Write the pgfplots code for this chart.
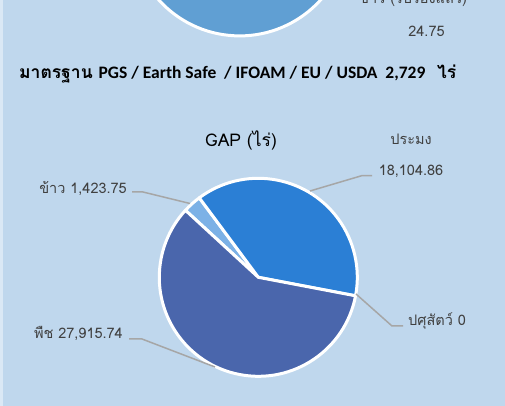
\documentclass[border=0pt]{standalone}
\usepackage{pgfplots}
\pgfplotsset{compat=1.18}
\usepackage{pgfplotstable}
\usepackage{fontspec}
\setmainfont{Loma}[Script=Thai]
\newfontfamily\thaifont[Script=Thai]{Loma}
\newfontfamily\latinfont{Carlito}
\definecolor{bg}{HTML}{BFD7ED}
\definecolor{strip}{HTML}{DAE8F5}
\definecolor{toppie}{HTML}{609FD3}
\definecolor{cfish}{HTML}{2B7FD5}
\definecolor{cplant}{HTML}{4A66AC}
\definecolor{crice}{HTML}{7CB1E6}
\definecolor{leader}{HTML}{A6A6A6}
\definecolor{txt}{HTML}{404040}

% GAP (rai): rice, fishery, livestock, plants
\pgfplotstableread{
idx value
0 1423.75
1 18104.86
2 0
3 27915.74
}\gapdata

\begin{document}
\begin{tikzpicture}
\pgfplotstablegetelem{0}{value}\of\gapdata \let\va\pgfplotsretval
\pgfplotstablegetelem{1}{value}\of\gapdata \let\vb\pgfplotsretval
\pgfplotstablegetelem{2}{value}\of\gapdata \let\vc\pgfplotsretval
\pgfplotstablegetelem{3}{value}\of\gapdata \let\vd\pgfplotsretval
\edef\tot{\fpeval{\va+\vb+\vc+\vd}}
\edef\aA{137.4}
\edef\aB{\fpeval{\aA-360*\va/\tot}}
\edef\aC{\fpeval{\aB-360*\vb/\tot}}
\edef\aD{\fpeval{\aC-360*\vc/\tot}}
\edef\aE{\fpeval{\aD-360*\vd/\tot}}
\begin{axis}[name=ax, hide axis, scale only axis,
  width=505bp, height=406bp,
  xmin=0, xmax=505, ymin=0, ymax=406,
  disabledatascaling, clip=true]
% background
\fill[bg] (axis cs:0,0) rectangle (axis cs:505,406);
\fill[strip] (axis cs:0,0) rectangle (axis cs:2.5,406);
% top pie (cropped)
\filldraw[fill=toppie, draw=white, line width=3bp] (axis cs:239.7,479.1) circle[radius=109bp];
\node[anchor=base, text=txt, font=\fontsize{14.5bp}{17bp}\selectfont] at (axis cs:413,402.5) {ข้าว (รับรองแล้ว)};
\node[text=txt, font=\fontsize{14.5bp}{17bp}\selectfont] at (axis cs:426.5,375) {24.75};
% standard line
\node[anchor=west, text=black, inner sep=0pt] at (axis cs:19,332)
  {\fontsize{17.5bp}{20bp}\selectfont\bfseries มาตรฐาน {\latinfont PGS / Earth Safe~~/ IFOAM / EU / USDA~~2,729}~~ไร่};
% GAP title
\node[text=black, font=\fontsize{17.5bp}{20bp}\selectfont] at (axis cs:241,266) {GAP (ไร่)};
% GAP pie
\filldraw[fill=crice, draw=white, line width=3bp, line join=round] (axis cs:258.3,128.7) -- ++(\aA:99bp) arc[start angle=\aA, end angle=\aB, radius=99bp] -- cycle;
\filldraw[fill=cfish, draw=white, line width=3bp, line join=round] (axis cs:258.3,128.7) -- ++(\aB:99bp) arc[start angle=\aB, end angle=\aC, radius=99bp] -- cycle;
\filldraw[fill=cplant, draw=white, line width=3bp, line join=round] (axis cs:258.3,128.7) -- ++(\aD:99bp) arc[start angle=\aD, end angle=\aE, radius=99bp] -- cycle;
% leader lines
\draw[leader, line width=1.5bp] (axis cs:372,230.3) -- (axis cs:361.7,230.3) -- (axis cs:310,215);
\draw[leader, line width=1.5bp] (axis cs:132,214) -- (axis cs:143,214) -- (axis cs:190,202.5);
\draw[leader, line width=1.5bp] (axis cs:356,112) -- (axis cs:392,80) -- (axis cs:403,80);
\draw[leader, line width=1.5bp] (axis cs:129,67) -- (axis cs:142,67) -- (axis cs:215,39);
% labels
\node[text=txt, font=\fontsize{14.5bp}{17bp}\selectfont] at (axis cs:411,267) {ประมง};
\node[text=txt, font=\fontsize{14.5bp}{17bp}\selectfont] at (axis cs:411,235) {18,104.86};
\node[anchor=east, inner sep=1bp, text=txt, font=\fontsize{14.5bp}{17bp}\selectfont] at (axis cs:128,218) {ข้าว 1,423.75};
\node[anchor=west, inner sep=1bp, text=txt, font=\fontsize{14.5bp}{17bp}\selectfont] at (axis cs:407,85) {ปศุสัตว์ 0};
\node[anchor=east, inner sep=1bp, text=txt, font=\fontsize{14.5bp}{17bp}\selectfont] at (axis cs:124,73) {พืช 27,915.74};
\end{axis}
\pgfresetboundingbox
\path[use as bounding box] (ax.south west) rectangle (ax.north east);
\end{tikzpicture}
\end{document}
